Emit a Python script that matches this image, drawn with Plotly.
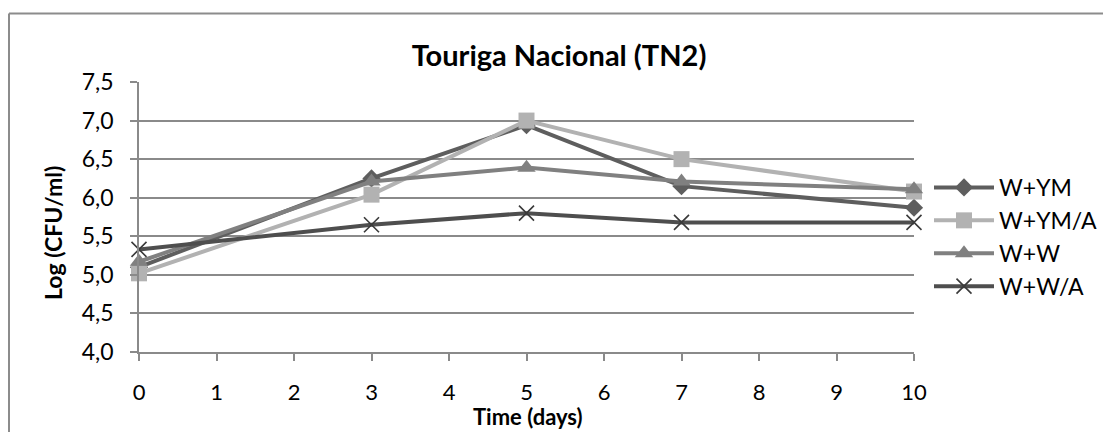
import plotly.graph_objects as go

days = [0, 3, 5, 7, 10]
series_names = ["W+YM", "W+YM/A", "W+W", "W+W/A"]
w_ym = [5.10, 6.25, 6.94, 6.15, 5.87]
w_ym_a = [5.02, 6.04, 7.00, 6.50, 6.08]
w_w = [5.17, 6.21, 6.39, 6.21, 6.11]
w_w_a = [5.33, 5.65, 5.80, 5.68, 5.68]
y_ticks = [4.0, 4.5, 5.0, 5.5, 6.0, 6.5, 7.0, 7.5]
x_ticks = list(range(0, 11))

FONT = "Lato"
styles = [
    dict(color="#5e5e5e", symbol="diamond", size=14, mline=dict(width=0)),
    dict(color="#b2b2b2", symbol="square", size=16, mline=dict(width=0)),
    dict(color="#808080", symbol="triangle-up", size=16, mline=dict(width=0)),
    dict(color="#4e4e4e", symbol="x-thin", size=15, mline=dict(width=1.6, color="#3a3a3a")),
]
values = [w_ym, w_ym_a, w_w, w_w_a]

fig = go.Figure()
for name, vals, st in zip(series_names, values, styles):
    fig.add_trace(go.Scatter(
        x=days, y=vals, name=name, mode="lines+markers",
        line=dict(color=st["color"], width=4),
        marker=dict(symbol=st["symbol"], size=st["size"], color=st["color"],
                    line=st["mline"]),
        cliponaxis=False, legendgroup=name,
    ))

W, H = 1103, 432
L, R, T, B = 139, 189, 82, 80
pw, ph = W - L - R, H - T - B

def px(xp):
    return (xp - L) / pw

def py(yp):
    return (H - B - yp) / ph

fig.update_layout(
    width=W, height=H,
    margin=dict(l=L, r=R, t=T, b=B, pad=0, autoexpand=False),
    paper_bgcolor="white", plot_bgcolor="white",
    separators=",.",
    font=dict(family=FONT, size=23, color="black"),
    showlegend=True,
    legend=dict(x=px(929), xanchor="left", y=py(237), yanchor="middle",
                font=dict(size=23, family=FONT), itemwidth=60,
                traceorder="grouped", tracegroupgap=0,
                bgcolor="rgba(0,0,0,0)"),
    title=dict(text="<b>Touriga Nacional (TN2)</b>", xref="container", x=559 / W,
               xanchor="center", yref="container", y=1 - 56 / H, yanchor="middle",
               font=dict(size=29, family=FONT, color="black")),
    xaxis=dict(range=[0, 10], tickvals=x_ticks, ticktext=[str(v) for v in x_ticks],
               showgrid=False, zeroline=False, showline=True, linecolor="#8a8a8a",
               linewidth=1.5, ticks="outside", ticklen=7, tickwidth=1.5,
               tickcolor="#8a8a8a", ticklabelstandoff=13,
               tickfont=dict(size=22, family=FONT, color="black")),
    yaxis=dict(range=[4.0, 7.5], tickvals=y_ticks, tickformat=".1f",
               showgrid=True, gridcolor="#8a8a8a", gridwidth=1.5, zeroline=False,
               showline=True, linecolor="#8a8a8a", linewidth=1.5,
               ticks="outside", ticklen=7, tickwidth=1.5, tickcolor="#8a8a8a",
               ticklabelstandoff=12,
               tickfont=dict(size=23, family=FONT, color="black")),
    annotations=[
        dict(text="<b>Time (days)</b>", xref="paper", yref="paper",
             x=px(528), y=py(432), xanchor="center", yanchor="bottom",
             showarrow=False, font=dict(size=22, family=FONT, color="black")),
        dict(text="<b>Log (CFU/ml)</b>", xref="paper", yref="paper",
             x=px(53), y=py(233), xanchor="center", yanchor="middle",
             textangle=-90, showarrow=False,
             font=dict(size=23, family=FONT, color="black")),
    ],
    shapes=[
        dict(type="line", xref="paper", yref="paper", x0=px(9), x1=px(9),
             y0=py(H + 20), y1=py(13.5), line=dict(color="#8c8c8c", width=2)),
        dict(type="line", xref="paper", yref="paper", x0=px(9), x1=px(W + 20),
             y0=py(13.5), y1=py(13.5), line=dict(color="#8c8c8c", width=2)),
    ],
)

fig.write_html("out.html")
